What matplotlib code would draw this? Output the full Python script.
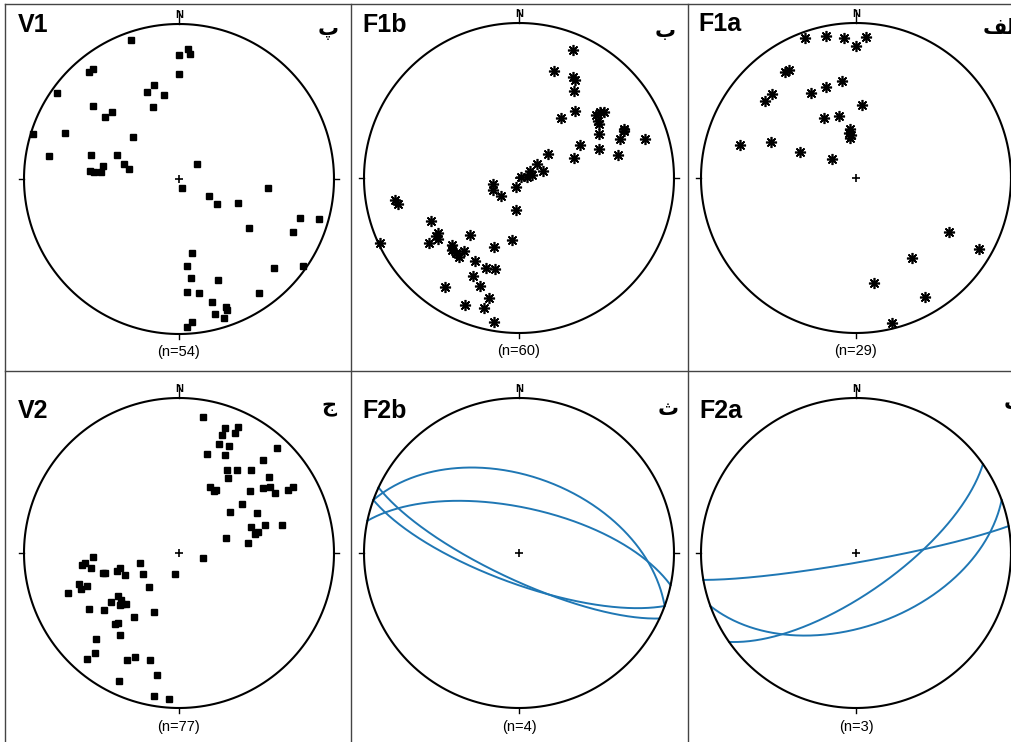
import numpy as np
import matplotlib
matplotlib.use("Agg")
import matplotlib.pyplot as plt
from matplotlib.lines import Line2D

plt.rcParams['font.family'] = ['Liberation Sans', 'DejaVu Sans']

# lineation data, trend / plunge in degrees (lower hemisphere)
v1_trend = [341, 0, 4, 5, 0, 320, 322, 305, 340, 345, 350, 310, 340, 310, 315, 287, 292, 313,
            280, 285, 291, 285, 281, 280, 275, 275, 275, 50, 162, 119, 124, 112, 96, 125, 108,
            106, 115, 170, 175, 173, 159, 133, 125, 176, 170, 145, 165, 160, 160, 165, 162, 175, 177]
v1_plunge = [6, 21, 17, 20, 33, 11, 11, 4, 40, 37, 44, 28, 49, 38, 39, 2, 22, 57,
             16, 41, 55, 60, 63, 49, 42, 44, 48, 78, 85, 72, 66, 56, 42, 44, 19,
             7, 20, 50, 43, 36, 31, 17, 3, 28, 26, 11, 19, 13, 11, 11, 6, 8, 5]

f1b_trend = [23, 18, 28, 30, 32, 40, 35, 51, 51, 52, 54, 56, 61, 65, 66, 69, 73, 62, 70, 77,
             70, 50, 52, 73, 59, 75, 81, 72, 198, 256, 245, 225, 185, 260, 258, 244, 236, 233,
             234, 221, 225, 223, 217, 217, 245, 200, 186, 208, 200, 195, 205, 200, 214, 194,
             195, 203, 190, 220, 235]
f1b_plunge = [11, 28, 27, 28, 34, 43, 51, 36, 33, 31, 37, 38, 41, 26, 27, 31, 16, 53, 44, 35,
              59, 70, 78, 77, 83, 83, 86, 89, 85, 76, 75, 77, 73, 20, 21, 37, 37, 35,
              29, 50, 39, 37, 36, 41, 1, 51, 57, 39, 38, 39, 31, 27, 16, 21,
              14, 12, 6, 37, 35]

f1a_trend = [340, 348, 355, 0, 4, 326, 328, 315, 310, 332, 342, 352, 5, 332, 345, 353, 353,
             352, 351, 286, 293, 295, 309, 120, 120, 145, 170, 150, 166]
f1a_plunge = [4, 7, 10, 16, 10, 19, 19, 24, 24, 38, 38, 37, 51, 54, 56, 64, 67,
              69, 66, 23, 40, 57, 74, 31, 9, 37, 32, 12, 4]

v2_trend = [10, 20, 25, 20, 25, 20, 25, 43, 16, 25, 42, 30, 35, 41, 33, 50, 25, 29, 30, 49,
            52, 54, 58, 60, 60, 52, 51, 63, 70, 72, 75, 75, 76, 72, 82, 102, 192, 267, 263,
            264, 260, 255, 255, 254, 256, 248, 256, 240, 221, 253, 250, 250, 250, 235, 234,
            231, 228, 226, 238, 233, 203, 215, 222, 221, 216, 224, 220, 221, 206, 203, 195,
            190, 205, 190, 184, 229]
v2_plunge = [12, 15, 11, 20, 16, 26, 25, 8, 34, 31, 20, 38, 35, 30, 42, 25, 51, 52, 51, 39,
             32, 28, 28, 20, 16, 47, 55, 43, 49, 41, 32, 46, 48, 64, 53, 77, 79, 44, 37,
             39, 42, 48, 49, 56, 58, 59, 69, 68, 66, 33, 33, 37, 25, 50, 45,
             50, 49, 51, 32, 39, 56, 48, 38, 40, 35, 24, 17, 10, 24, 28, 29,
             21, 10, 7, 6, 48]

# planes, dip direction / dip
f2b_dipdir = [20, 12, 205, 200]
f2b_dip = [49, 66, 76, 74]
f2a_dipdir = [170, 145, 160]
f2a_dip = [85, 69, 51]

W, H = 1012, 742
R = 155.0
L = 1.1


def project(trend, plunge):
    t = np.radians(trend)
    p = np.radians(plunge)
    r = np.sqrt(1 - np.sin(p))  # equal area
    return r * np.sin(t), r * np.cos(t)


def great_circle(dipdir, dip):
    s = np.radians(dipdir - 90)
    dd = np.radians(dipdir)
    d = np.radians(dip)
    a = np.linspace(0, np.pi, 300)
    sv = np.array([np.sin(s), np.cos(s), 0.0])
    dv = np.array([np.sin(dd) * np.cos(d), np.cos(dd) * np.cos(d), np.sin(d)])
    v = np.outer(np.cos(a), sv) + np.outer(np.sin(a), dv)
    k = 1 / np.sqrt(1 + v[:, 2])
    return v[:, 0] * k, v[:, 1] * k


panels = [
    dict(c=(179, 179), name='V1', letter='\u067e', n='(n=54)', kind='sq',
         data=(v1_trend, v1_plunge), name_xy=(-1.04, 0.95), let_xy=(0.96, 0.96), n_y=-1.115),
    dict(c=(519, 178), name='F1b', letter='\u0628', n='(n=60)', kind='ast',
         data=(f1b_trend, f1b_plunge), name_xy=(-1.01, 0.94), let_xy=(0.94, 0.95), n_y=-1.115),
    dict(c=(856, 178), name='F1a', letter='\ufed2\ufedf\ufe8d', n='(n=29)', kind='ast',
         data=(f1a_trend, f1a_plunge), name_xy=(-1.02, 0.95), let_xy=(0.82, 0.97), n_y=-1.115,
         let_ha='left'),
    dict(c=(179, 553), name='V2', letter='\u062c', n='(n=77)', kind='sq',
         data=(v2_trend, v2_plunge), name_xy=(-1.04, 0.87), let_xy=(0.97, 0.94), n_y=-1.12),
    dict(c=(519, 553), name='F2b', letter='\u062b', n='(n=4)', kind='gc',
         data=(f2b_dipdir, f2b_dip), name_xy=(-1.01, 0.87), let_xy=(0.96, 0.93), n_y=-1.12),
    dict(c=(856, 553), name='F2a', letter='\u062a', n='(n=3)', kind='gc',
         data=(f2a_dipdir, f2a_dip), name_xy=(-1.01, 0.87), let_xy=(0.95, 0.97), n_y=-1.12,
         let_ha='left'),
]

fig = plt.figure(figsize=(W / 100, H / 100), dpi=100)
fig.patch.set_facecolor('white')

th = np.linspace(0, 2 * np.pi, 400)
for p in panels:
    cx, cy = p['c']
    ax = fig.add_axes([(cx - L * R) / W, (H - cy - L * R) / H, 2 * L * R / W, 2 * L * R / H])
    ax.set_xlim(-L, L)
    ax.set_ylim(-L, L)
    ax.set_aspect('equal')
    ax.axis('off')

    ax.plot(np.cos(th), np.sin(th), color='k', lw=1.5, zorder=3)
    for x0, y0, x1, y1 in [(0, 1, 0, 1.085), (0, -1, 0, -1.035), (-1, 0, -1.035, 0), (1, 0, 1.035, 0)]:
        ax.plot([x0, x1], [y0, y1], color='k', lw=1.0, clip_on=False)
    ax.text(0, 1.06, 'N', fontsize=8, fontweight='bold', ha='center', va='center')
    ax.plot(0, 0, marker='+', color='k', ms=6, mew=1.2)

    a, b = p['data']
    if p['kind'] == 'sq':
        x, y = project(np.array(a), np.array(b))
        ax.plot(x, y, linestyle='none', marker='s', ms=4.4, color='k', zorder=4)
    elif p['kind'] == 'ast':
        x, y = project(np.array(a), np.array(b))
        ax.plot(x, y, linestyle='none', marker=(8, 2, 0), ms=8, mew=1.2, color='k', zorder=4)
        ax.plot(x, y, linestyle='none', marker='s', ms=3.4, color='k', zorder=4)
    else:
        for dd, dp in zip(a, b):
            gx, gy = great_circle(dd, dp)
            ax.plot(gx, gy, color='#1f77b4', lw=1.4, zorder=2)

    nx, ny = p['name_xy']
    ax.text(nx, ny, p['name'], fontsize=18, fontweight='bold', ha='left', va='baseline',
            clip_on=False)
    lx, ly = p['let_xy']
    ax.text(lx, ly, p['letter'], fontsize=15, fontweight='bold', family=['DejaVu Sans'],
            ha=p.get('let_ha', 'center'), va='center', clip_on=False)
    ax.text(0, p['n_y'], p['n'], fontsize=10.5, ha='center', va='center', clip_on=False)

# table borders
def hline(y, x0, x1):
    fig.add_artist(Line2D([x0 / W, x1 / W], [1 - y / H, 1 - y / H], color='#444444', lw=1.0))

def vline(x, y0, y1):
    fig.add_artist(Line2D([x / W, x / W], [1 - y0 / H, 1 - y1 / H], color='#444444', lw=1.0))

hline(3.5, 5.5, W)
hline(371, 5.5, W)
vline(5.5, 3.5, H)
vline(351, 3.5, H)
vline(688, 3.5, H)

fig.savefig('out.png', dpi=100, facecolor='white')
